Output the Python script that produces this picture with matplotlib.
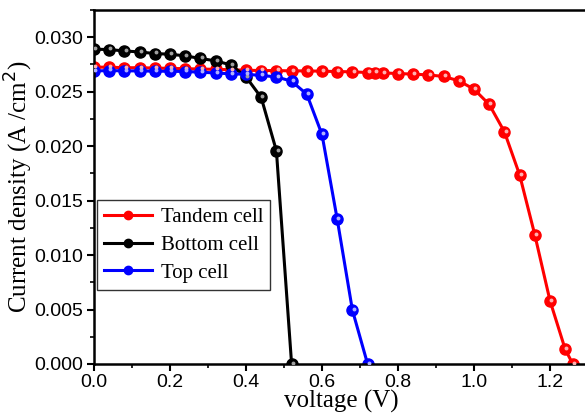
import numpy as np
import matplotlib
matplotlib.use("Agg")
import matplotlib.pyplot as plt
from matplotlib.ticker import MultipleLocator, FormatStrFormatter
from matplotlib.transforms import offset_copy

# Tandem cell
v_tandem = [0.00, 0.04, 0.08, 0.12, 0.16, 0.20, 0.24, 0.28, 0.32, 0.36, 0.40, 0.44,
            0.48, 0.52, 0.56, 0.60, 0.64, 0.68, 0.72, 0.74, 0.76, 0.80, 0.84, 0.88,
            0.92, 0.96, 1.00, 1.04, 1.08, 1.12, 1.16, 1.20, 1.24, 1.26]
j_tandem = [0.02725, 0.02725, 0.02720, 0.02720, 0.02717, 0.02714, 0.02711, 0.02708,
            0.02705, 0.02702, 0.02697, 0.02694, 0.02694, 0.02691, 0.02691, 0.02688,
            0.02685, 0.02682, 0.02676, 0.02676, 0.02672, 0.02667, 0.02661, 0.02654,
            0.02640, 0.02600, 0.02523, 0.02383, 0.02132, 0.01737, 0.01186, 0.00581,
            0.00135, 0.0]

# Bottom cell
v_bottom = [0.00, 0.04, 0.08, 0.12, 0.16, 0.20, 0.24, 0.28, 0.32, 0.36, 0.40, 0.44,
            0.48, 0.52]
j_bottom = [0.02890, 0.02887, 0.02874, 0.02865, 0.02850, 0.02844, 0.02829, 0.02805,
            0.02783, 0.02746, 0.02636, 0.02447, 0.01957, 0.0]

# Top cell
v_top = [0.00, 0.04, 0.08, 0.12, 0.16, 0.20, 0.24, 0.28, 0.32, 0.36, 0.40, 0.44,
         0.48, 0.52, 0.56, 0.60, 0.64, 0.68, 0.72]
j_top = [0.02690, 0.02694, 0.02691, 0.02691, 0.02688, 0.02688, 0.02685, 0.02679,
         0.02672, 0.02664, 0.02660, 0.02649, 0.02636, 0.02596, 0.02477, 0.02107,
         0.01330, 0.00495, 0.0]

series = [
    (v_tandem, j_tandem, "#ff0000", "#ffb0b0", "Tandem cell"),
    (v_bottom, j_bottom, "#000000", "#a0a0a0", "Bottom cell"),
    (v_top, j_top, "#0000ff", "#b0b0ff", "Top cell"),
]

fig = plt.figure(figsize=(5.85, 4.2), dpi=100)
ax = fig.add_axes([94/585, 56/420, 494/585, 354/420])

for v, j, col, hi, lab in series:
    ax.plot(v, j, color=col, lw=2.2, marker="o", ms=8, mfc=col, mec=col,
            label=lab, zorder=2)
    # small highlight to mimic the shaded ball markers
    tr = offset_copy(ax.transData, fig=fig, x=0.8, y=0.8, units="points")
    ax.plot(v, j, ls="none", marker="o", ms=2.8, mfc=hi, mec="none",
            transform=tr, zorder=3)

ax.set_xlim(0, 1.3)
ax.set_ylim(0, 0.0325)
ax.xaxis.set_major_locator(MultipleLocator(0.2))
ax.xaxis.set_minor_locator(MultipleLocator(0.1))
ax.yaxis.set_major_locator(MultipleLocator(0.005))
ax.yaxis.set_minor_locator(MultipleLocator(0.0025))
ax.xaxis.set_major_formatter(FormatStrFormatter("%.1f"))
ax.yaxis.set_major_formatter(FormatStrFormatter("%.3f"))

for s in ax.spines.values():
    s.set_linewidth(1.8)
ax.tick_params(which="major", direction="out", length=5, width=1.5,
               labelsize=14, pad=2.5, top=False, right=False)
ax.tick_params(which="minor", direction="out", length=3, width=1.2,
               top=False, right=False)
for t in ax.get_xticklabels() + ax.get_yticklabels():
    t.set_fontfamily("Liberation Sans")

ax.set_xlabel("voltage (V)", fontfamily="Liberation Serif", fontsize=18, labelpad=-1)
ax.set_ylabel("Current density (A /cm$^2$)", fontfamily="Liberation Serif",
              fontsize=18, labelpad=0)

leg = ax.legend(loc="lower left", bbox_to_anchor=(0.006, 0.209), borderaxespad=0,
                frameon=True, fancybox=False, edgecolor="black",
                prop={"family": "Liberation Serif", "size": 15},
                handlelength=2.3, handletextpad=0.4, borderpad=0.35,
                labelspacing=0.4, markerscale=0.75)
leg.get_frame().set_linewidth(1.0)

fig.savefig("out.png", dpi=100)
